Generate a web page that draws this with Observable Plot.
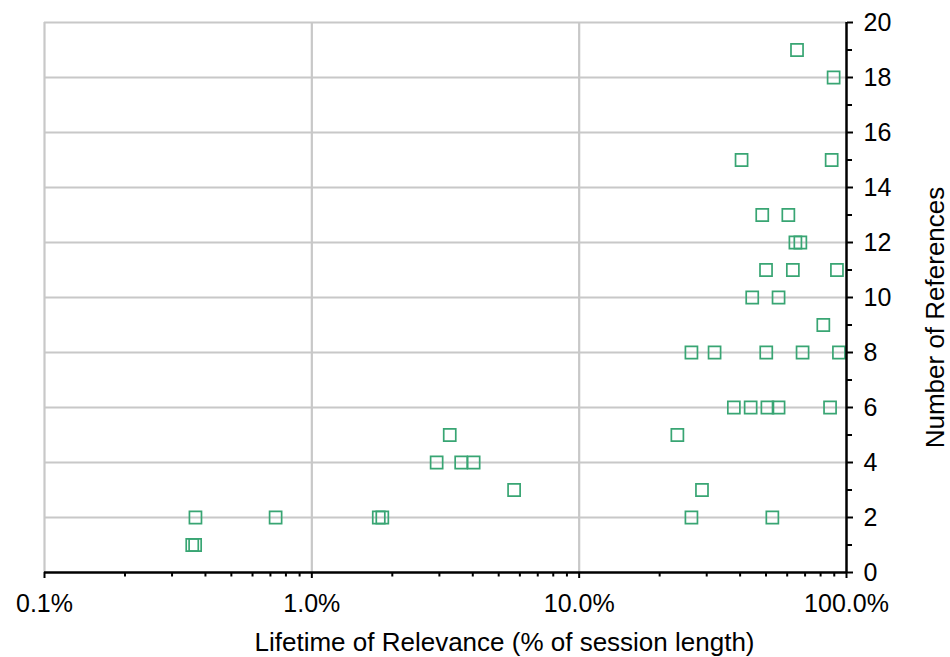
<!DOCTYPE html>
<html>
<head>
<meta charset="utf-8">
<script src="https://cdn.jsdelivr.net/npm/d3@7"></script>
<script src="https://cdn.jsdelivr.net/npm/@observablehq/plot@0.6"></script>
<style>
  html, body { margin: 0; padding: 0; background: #fff; }
  #chart { width: 950px; height: 657px; }
</style>
</head>
<body>
<div id="chart"></div>
<script>
// Lifetime of relevance (% of session length) and number of references per item
const lifetimePct = [
  65.3,
  89.5,
  40.5, 88,
  48.4, 60.6,
  64.4, 67.2,
  50, 63, 92.1,
  44.4, 55.7,
  81.9,
  26.3, 32.1, 50.1, 68.5, 93.7,
  37.9, 43.8, 50.6, 55.7, 86.8,
  3.28, 23.3,
  2.93, 3.62, 4.03,
  5.71, 28.8,
  0.367, 0.732, 1.78, 1.835, 26.3, 52.8,
  0.357, 0.366
];
const references = [
  19,
  18,
  15, 15,
  13, 13,
  12, 12,
  11, 11, 11,
  10, 10,
  9,
  8, 8, 8, 8, 8,
  6, 6, 6, 6, 6,
  5, 5,
  4, 4, 4,
  3, 3,
  2, 2, 2, 2, 2, 2,
  1, 1
];

const xTickValues = [0.1, 1, 10, 100];
const xTickLabels = ["0.1%", "1.0%", "10.0%", "100.0%"];
const xMinorTicks = [0.2,0.3,0.4,0.5,0.6,0.7,0.8,0.9,2,3,4,5,6,7,8,9,20,30,40,50,60,70,80,90];
const yTickValues = [0, 2, 4, 6, 8, 10, 12, 14, 16, 18, 20];
const yMinorTicks = [1, 3, 5, 7, 9, 11, 13, 15, 17, 19];
const xGrid = [0.1, 1, 10];
const yGrid = [2, 4, 6, 8, 10, 12, 14, 16, 18, 20];
const xTitle = "Lifetime of Relevance (% of session length)";
const yTitle = "Number of References";

const data = lifetimePct.map((x, i) => ({x, y: references[i]}));
const gridColor = "#c8c8c8";
const dotColor = "#38a573";

const chart = Plot.plot({
  width: 950,
  height: 657,
  marginLeft: 44,
  marginRight: 104,
  marginTop: 22,
  marginBottom: 85,
  style: {fontFamily: "'Liberation Sans', Arial, Helvetica, sans-serif", fontSize: "25px", color: "#000", background: "#fff"},
  x: {type: "log", domain: [0.1, 100]},
  y: {domain: [0, 20]},
  marks: [
    Plot.ruleX(xGrid, {stroke: gridColor, strokeWidth: 2.2}),
    Plot.ruleY(yGrid, {stroke: gridColor, strokeWidth: 2.2}),
    Plot.dot(data, {x: "x", y: "y", symbol: "square", r: 6.8, stroke: dotColor, strokeWidth: 1.7, fill: "none"}),
    Plot.ruleY([0], {stroke: "#000", strokeWidth: 2.5}),
    Plot.ruleX([100], {stroke: "#000", strokeWidth: 2.5}),
    Plot.axisX(xTickValues, {anchor: "bottom", tickSize: 6, tickPadding: 16, strokeWidth: 2,
      tickFormat: (d) => xTickLabels[xTickValues.indexOf(d)], label: null, fontSize: 25}),
    Plot.axisX(xMinorTicks, {anchor: "bottom", tickSize: 4.5, strokeWidth: 2, tickFormat: () => "", label: null}),
    Plot.axisY(yTickValues, {anchor: "right", tickSize: 6, tickPadding: 11, strokeWidth: 2,
      tickFormat: d => String(d), label: null, fontSize: 25, textAnchor: "start"}),
    Plot.axisY(yMinorTicks, {anchor: "right", tickSize: 5, strokeWidth: 2, tickFormat: () => "", label: null}),
    Plot.text([xTitle], {frameAnchor: "bottom", lineAnchor: "bottom", textAnchor: "middle", dx: 59, dy: 78, fontSize: 26, text: d => d}),
    Plot.text([yTitle], {frameAnchor: "right", lineAnchor: "bottom", textAnchor: "middle", rotate: -90, dx: 97, dy: 20, fontSize: 26, text: d => d})
  ]
});
document.getElementById("chart").appendChild(chart);
</script>
</body>
</html>
